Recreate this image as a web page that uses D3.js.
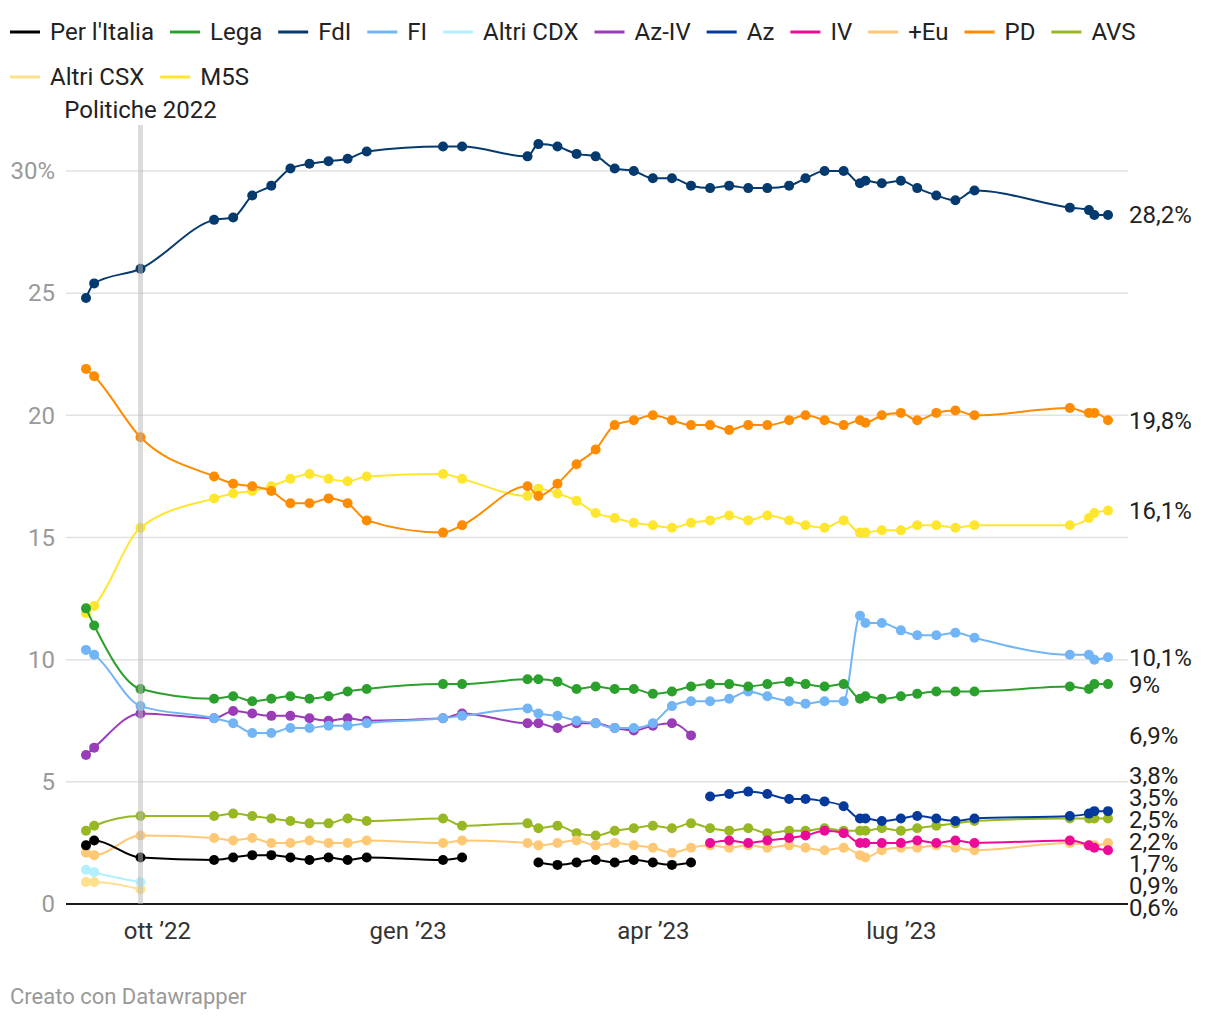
<!DOCTYPE html>
<html>
<head>
<meta charset="utf-8">
<script src="https://cdnjs.cloudflare.com/ajax/libs/d3/7.8.5/d3.min.js"></script>
<style>
body { margin: 0; background: #fff; }
svg text { font-family: Roboto, "Noto Sans", sans-serif; }
</style>
</head>
<body>
<svg id="chart" width="1220" height="1020"></svg>
<script>

// poll dates (one column per survey)
var dates = ["2022-09-05","2022-09-08","2022-09-25","2022-10-22","2022-10-29","2022-11-05","2022-11-12",
  "2022-11-19","2022-11-26","2022-12-03","2022-12-10","2022-12-17","2023-01-14","2023-01-21",
  "2023-02-14","2023-02-18","2023-02-25","2023-03-04","2023-03-11","2023-03-18","2023-03-25",
  "2023-04-01","2023-04-08","2023-04-15","2023-04-22","2023-04-29","2023-05-06","2023-05-13",
  "2023-05-21","2023-05-27","2023-06-03","2023-06-10","2023-06-16","2023-06-18","2023-06-24",
  "2023-07-01","2023-07-07","2023-07-14","2023-07-21","2023-07-28","2023-09-01","2023-09-08",
  "2023-09-10","2023-09-15"];

var perItalia = [2.4,2.6,1.9,1.8,1.9,2.0,2.0,1.9,1.8,1.9,1.8,1.9,1.8,1.9,
  null,1.7,1.6,1.7,1.8,1.7,1.8,1.7,1.6,1.7,
  null,null,null,null,null,null,null,null,null,null,null,null,null,null,null,null,null,null,null,null];
var lega = [12.1,11.4,8.8,8.4,8.5,8.3,8.4,8.5,8.4,8.5,8.7,8.8,9.0,9.0,
  9.2,9.2,9.1,8.8,8.9,8.8,8.8,8.6,8.7,8.9,9.0,9.0,8.9,9.0,9.1,9.0,8.9,9.0,
  8.4,8.5,8.4,8.5,8.6,8.7,8.7,8.7,8.9,8.8,9.0,9.0];
var fdi = [24.8,25.4,26.0,28.0,28.1,29.0,29.4,30.1,30.3,30.4,30.5,30.8,31.0,31.0,
  30.6,31.1,31.0,30.7,30.6,30.1,30.0,29.7,29.7,29.4,29.3,29.4,29.3,29.3,29.4,29.7,30.0,30.0,
  29.5,29.6,29.5,29.6,29.3,29.0,28.8,29.2,28.5,28.4,28.2,28.2];
var fi = [10.4,10.2,8.1,7.6,7.4,7.0,7.0,7.2,7.2,7.3,7.3,7.4,7.6,7.7,
  8.0,7.8,7.7,7.5,7.4,7.2,7.2,7.4,8.1,8.3,8.3,8.4,8.7,8.5,8.3,8.2,8.3,8.3,
  11.8,11.5,11.5,11.2,11.0,11.0,11.1,10.9,10.2,10.2,10.0,10.1];
var altriCdx = [1.4,1.3,0.9,
  null,null,null,null,null,null,null,null,null,null,null,null,null,null,null,null,null,null,null,
  null,null,null,null,null,null,null,null,null,null,null,null,null,null,null,null,null,null,null,null,null,null];
var azIv = [6.1,6.4,7.8,7.6,7.9,7.8,7.7,7.7,7.6,7.5,7.6,7.5,7.6,7.8,
  7.4,7.4,7.2,7.4,7.4,7.2,7.1,7.3,7.4,6.9,
  null,null,null,null,null,null,null,null,null,null,null,null,null,null,null,null,null,null,null,null];
var az = [null,null,null,null,null,null,null,null,null,null,null,null,null,null,
  null,null,null,null,null,null,null,null,null,null,
  4.4,4.5,4.6,4.5,4.3,4.3,4.2,4.0,3.5,3.5,3.4,3.5,3.6,3.5,3.4,3.5,3.6,3.7,3.8,3.8];
var iv = [null,null,null,null,null,null,null,null,null,null,null,null,null,null,
  null,null,null,null,null,null,null,null,null,null,
  2.5,2.6,2.5,2.6,2.7,2.8,3.0,2.9,2.5,2.5,2.5,2.5,2.6,2.5,2.6,2.5,2.6,2.4,2.3,2.2];
var piuEuropa = [2.1,2.0,2.8,2.7,2.6,2.7,2.5,2.5,2.6,2.5,2.5,2.6,2.5,2.6,
  2.5,2.4,2.5,2.6,2.4,2.5,2.4,2.3,2.1,2.3,2.4,2.3,2.4,2.3,2.4,2.3,2.2,2.3,
  2.0,1.9,2.2,2.3,2.3,2.4,2.3,2.2,2.5,2.4,2.4,2.5];
var pd = [21.9,21.6,19.1,17.5,17.2,17.1,16.9,16.4,16.4,16.6,16.4,15.7,15.2,15.5,
  17.1,16.7,17.2,18.0,18.6,19.6,19.8,20.0,19.8,19.6,19.6,19.4,19.6,19.6,19.8,20.0,19.8,19.6,
  19.8,19.7,20.0,20.1,19.8,20.1,20.2,20.0,20.3,20.1,20.1,19.8];
var avs = [3.0,3.2,3.6,3.6,3.7,3.6,3.5,3.4,3.3,3.3,3.5,3.4,3.5,3.2,
  3.3,3.1,3.2,2.9,2.8,3.0,3.1,3.2,3.1,3.3,3.1,3.0,3.1,2.9,3.0,3.0,3.1,3.0,
  3.0,3.0,3.1,3.0,3.1,3.2,3.3,3.4,3.5,3.5,3.5,3.5];
var altriCsx = [0.9,0.9,0.6,
  null,null,null,null,null,null,null,null,null,null,null,null,null,null,null,null,null,null,null,
  null,null,null,null,null,null,null,null,null,null,null,null,null,null,null,null,null,null,null,null,null,null];
var m5s = [11.9,12.2,15.4,16.6,16.8,16.9,17.1,17.4,17.6,17.4,17.3,17.5,17.6,17.4,
  16.7,17.0,16.8,16.5,16.0,15.8,15.6,15.5,15.4,15.6,15.7,15.9,15.7,15.9,15.7,15.5,15.4,15.7,
  15.2,15.2,15.3,15.3,15.5,15.5,15.4,15.5,15.5,15.8,16.0,16.1];

var seriesNames = ["Per l'Italia","Lega","FdI","FI","Altri CDX","Az-IV","Az","IV","+Eu","PD","AVS","Altri CSX","M5S"];
var seriesValues = [perItalia, lega, fdi, fi, altriCdx, azIv, az, iv, piuEuropa, pd, avs, altriCsx, m5s];
var seriesColors = ["#000000","#2ca02c","#053a6e","#72b5f6","#b3f0ff","#9a3cb8","#053a9c","#ee0a98",
  "#ffc875","#ff8b00","#97b823","#ffe08c","#ffe62e"];

var yTicks = [0, 5, 10, 15, 20, 25, 30];
var yTickLabels = ["0", "5", "10", "15", "20", "25", "30%"];
var xTicks = ["2022-10-01", "2023-01-01", "2023-04-01", "2023-07-01"];
var xTickLabels = ["ott \u201922", "gen \u201923", "apr \u201923", "lug \u201923"];

var electionDate = "2022-09-25";
var electionLabel = "Politiche 2022";

var parseDate = d3.timeParse("%Y-%m-%d");

makeChart();


function makeChart(){

  var svg = d3.select("#chart");

  var x = d3.scaleTime()
      .domain([parseDate(dates[0]), parseDate(dates[dates.length - 1])])
      .range([86, 1108]);

  var y = d3.scaleLinear()
      .domain([0, 30])
      .range([904, 171]);

  makeLegend(svg);

  // grid
  svg.append("g")
    .selectAll("line")
    .data(yTicks.filter(function(t){ return t > 0; }))
    .enter().append("line")
      .attr("x1", 66)
      .attr("x2", 1128)
      .attr("y1", function(d){ return y(d); })
      .attr("y2", function(d){ return y(d); })
      .attr("stroke", "#e2e2e2")
      .attr("stroke-width", 1.5);

  // y labels
  var yAxis = svg.append("g")
      .attr("transform", "translate(55,0)")
      .call(d3.axisLeft(y).tickValues(yTicks).tickSize(0).tickPadding(0)
        .tickFormat(function(d, i){ return yTickLabels[i]; }));
  yAxis.select(".domain").remove();
  yAxis.selectAll("text")
      .attr("font-size", 24)
      .attr("fill", "#9a9a9a")
      .attr("font-family", "Roboto");

  // x labels
  var xAxis = svg.append("g")
      .attr("transform", "translate(0,904)")
      .call(d3.axisBottom(x).tickValues(xTicks.map(parseDate)).tickSize(0)
        .tickFormat(function(d, i){ return xTickLabels[i]; }));
  xAxis.select(".domain").remove();
  xAxis.selectAll("text")
      .attr("y", 27)
      .attr("dy", "0.35em")
      .attr("font-size", 24)
      .attr("fill", "#333")
      .attr("font-family", "Roboto");

  // baseline
  svg.append("line")
    .attr("x1", 66).attr("x2", 1128)
    .attr("y1", y(0)).attr("y2", y(0))
    .attr("stroke", "#1a1a1a")
    .attr("stroke-width", 2);

  var line = d3.line()
      .defined(function(d){ return d.v != null; })
      .x(function(d){ return x(d.date); })
      .y(function(d){ return y(d.v); })
      .curve(d3.curveMonotoneX);

  // first in legend sits on top
  var order = d3.range(seriesNames.length).reverse();

  order.forEach(function(s){
    var pts = dates.map(function(dt, i){ return { date: parseDate(dt), v: seriesValues[s][i] }; });
    var g = svg.append("g").attr("class", "series");

    g.append("path")
      .datum(pts)
      .attr("d", line)
      .attr("fill", "none")
      .attr("stroke", seriesColors[s])
      .attr("stroke-width", 2);

    g.selectAll("circle")
      .data(pts.filter(function(p){ return p.v != null; }))
      .enter().append("circle")
        .attr("cx", function(p){ return x(p.date); })
        .attr("cy", function(p){ return y(p.v); })
        .attr("r", 5)
        .attr("fill", seriesColors[s]);
  });

  // election marker
  var ex = x(parseDate(electionDate));
  svg.append("rect")
    .attr("x", ex - 2.5)
    .attr("y", 125)
    .attr("width", 5)
    .attr("height", y(0) - 125)
    .attr("fill", "#b8b8b8")
    .attr("opacity", 0.5);

  svg.append("text")
    .text(electionLabel)
    .attr("x", ex)
    .attr("y", 110)
    .attr("dy", "0.35em")
    .attr("text-anchor", "middle")
    .attr("font-size", 24)
    .attr("fill", "#222");

  // end labels
  var labels = seriesValues.map(function(vals, s){
    var last = null;
    vals.forEach(function(v){ if (v != null) last = v; });
    return { value: last, y: y(last), s: s };
  });
  spreadLabels(labels, 22, 908);

  svg.append("g")
    .selectAll("text")
    .data(labels)
    .enter().append("text")
      .text(function(d){ return String(d.value).replace(".", ",") + "%"; })
      .attr("x", 1129)
      .attr("y", function(d){ return d.y; })
      .attr("dy", "0.35em")
      .attr("font-size", 24)
      .attr("fill", "#222");

  svg.append("text")
    .text("Creato con Datawrapper")
    .attr("x", 10)
    .attr("y", 996)
    .attr("dy", "0.35em")
    .attr("font-size", 22)
    .attr("fill", "#999");
}


function spreadLabels(items, gap, maxY){
  items.sort(function(a, b){ return a.y - b.y; });
  for (var it = 0; it < 300; it++) {
    for (var i = 1; i < items.length; i++) {
      var d = items[i].y - items[i-1].y;
      if (d < gap) {
        var shift = (gap - d) / 2;
        items[i-1].y -= shift;
        items[i].y += shift;
      }
    }
    if (items[items.length - 1].y > maxY) items[items.length - 1].y = maxY;
  }
}


function makeLegend(svg){
  var leg = svg.append("g").attr("class", "legend");
  var xPos = 10, rowY = 32;

  seriesNames.forEach(function(name, i){
    var item = leg.append("g");
    item.append("line")
      .attr("x1", 0).attr("x2", 30)
      .attr("stroke", seriesColors[i])
      .attr("stroke-width", 3);
    var t = item.append("text")
      .text(name)
      .attr("x", 40)
      .attr("dy", "0.35em")
      .attr("font-size", 24)
      .attr("fill", "#222");
    var w = 40 + t.node().getComputedTextLength();
    if (xPos + w > 1210) {
      xPos = 10;
      rowY += 45;
    }
    item.attr("transform", "translate(" + xPos + "," + rowY + ")");
    xPos += w + 16;
  });
}

</script>
</body>
</html>
